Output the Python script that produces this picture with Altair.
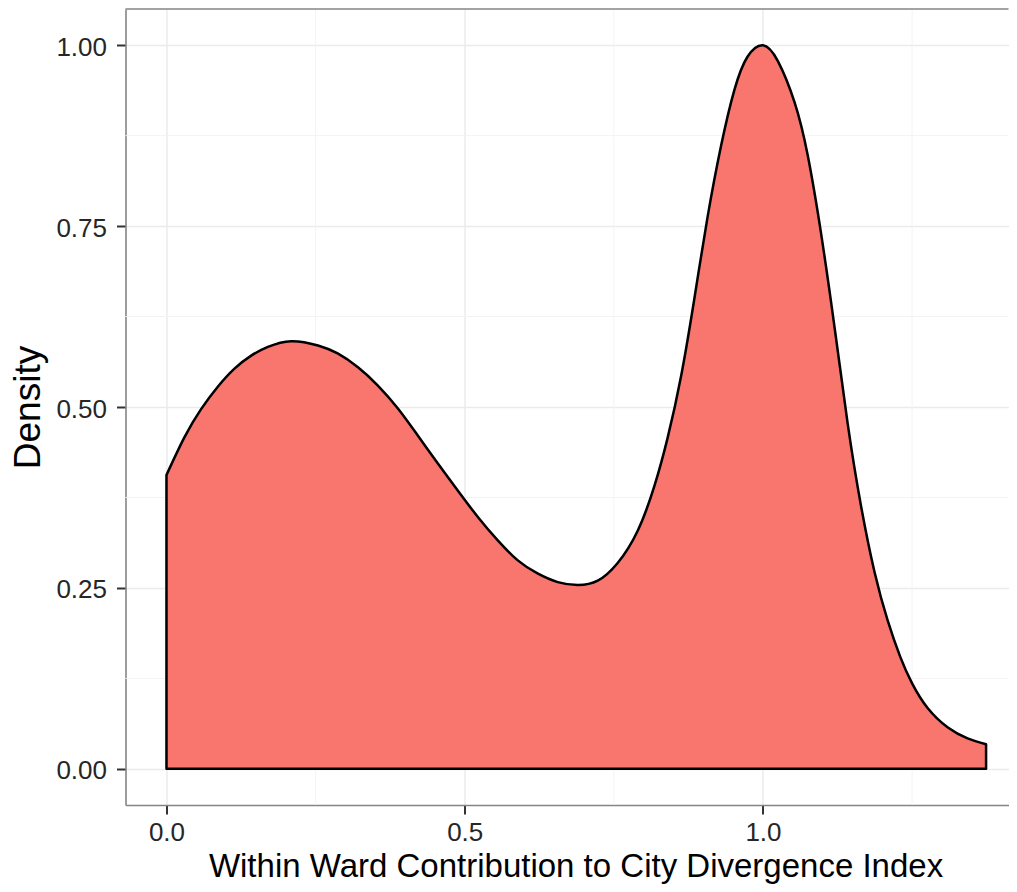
import altair as alt
import pandas as pd

# density curve
ward_x = [0.000, 0.030, 0.058, 0.086, 0.114, 0.142, 0.170, 0.209, 0.254, 0.287,
          0.321, 0.354, 0.388, 0.421, 0.455, 0.488, 0.522, 0.555, 0.589, 0.622,
          0.656, 0.690, 0.723, 0.756, 0.790, 0.818, 0.840, 0.863, 0.885, 0.907,
          0.930, 0.952, 0.974, 1.000, 1.025, 1.053, 1.075, 1.097, 1.120, 1.142,
          1.164, 1.187, 1.209, 1.230, 1.250, 1.276, 1.310, 1.343, 1.374]
density = [0.406, 0.458, 0.497, 0.528, 0.553, 0.571, 0.583, 0.591, 0.585, 0.574,
           0.555, 0.530, 0.498, 0.461, 0.422, 0.385, 0.348, 0.316, 0.288, 0.270,
           0.258, 0.254, 0.260, 0.284, 0.329, 0.391, 0.457, 0.544, 0.650, 0.762,
           0.862, 0.938, 0.984, 1.000, 0.978, 0.921, 0.848, 0.742, 0.610, 0.477,
           0.365, 0.272, 0.205, 0.155, 0.118, 0.084, 0.057, 0.042, 0.034]

x_major = [0.0, 0.5, 1.0]
x_minor = [0.25, 0.75, 1.25]
y_major = [0.0, 0.25, 0.5, 0.75, 1.0]
y_minor = [0.125, 0.375, 0.625, 0.875]

W, H = 883, 796
FONT = "Liberation Sans"
BORDER = "#858585"
TEXT = "#262626"

df = pd.DataFrame({"x": ward_x, "y": density})
x_scale = alt.Scale(domain=[-0.0687, -0.0687 + W / 596.5], nice=False, zero=False)
y_scale = alt.Scale(domain=[-0.05, 1.05], nice=False, zero=False)

x_axis = alt.Axis(
    values=x_major, format=".1f", title="Within Ward Contribution to City Divergence Index",
    tickSize=9, tickWidth=2, tickColor="#333333",
    labelFont=FONT, labelFontSize=26, labelColor=TEXT, labelPadding=5,
    labelFlush=False, labelOverlap=False,
    titleFont=FONT, titleFontSize=33, titleFontWeight="normal", titleColor="black",
    titleX=450, titleY=71, titleBaseline="alphabetic", titleAlign="center",
    domainColor=BORDER, domainWidth=1.6,
    gridColor="#EBEBEB", gridWidth=1.5)
y_axis = alt.Axis(
    values=y_major, format=".2f", title="Density",
    tickSize=9, tickWidth=2, tickColor="#333333",
    labelFont=FONT, labelFontSize=26, labelColor=TEXT, labelPadding=10,
    labelOffset=2, labelFlush=False, labelOverlap=False,
    titleFont=FONT, titleFontSize=37, titleFontWeight="normal", titleColor="black",
    titleAngle=270, titleX=-86, titleY=H / 2, titleBaseline="alphabetic", titleAlign="center",
    domainColor=BORDER, domainWidth=1.6,
    gridColor="#EBEBEB", gridWidth=1.5)

minor_v = alt.Chart(pd.DataFrame({"x": x_minor})).mark_rule(
    color="#F3F3F3", strokeWidth=1
).encode(x=alt.X("x:Q", scale=x_scale, axis=x_axis))

minor_h = alt.Chart(pd.DataFrame({"y": y_minor})).mark_rule(
    color="#F3F3F3", strokeWidth=1
).encode(y=alt.Y("y:Q", scale=y_scale, axis=y_axis))

area = alt.Chart(df).mark_area(
    fill="#F8766D", fillOpacity=1, stroke="black", strokeWidth=2.5,
    interpolate="natural", strokeJoin="round"
).encode(
    x=alt.X("x:Q", scale=x_scale, axis=x_axis),
    y=alt.Y("y:Q", scale=y_scale, axis=y_axis),
    y2=alt.datum(0),
)

# top edge of the panel border (the right edge is cut off in the reference)
top_edge = alt.Chart(pd.DataFrame({"a": [0]})).mark_rule(
    color=BORDER, strokeWidth=1.6
).encode(y=alt.value(0), x=alt.value(0), x2=alt.value(W))

chart = alt.layer(minor_v, minor_h, area, top_edge).properties(
    width=W, height=H,
    padding={"left": 117.5, "top": 1, "right": 0, "bottom": 79},
    autosize=alt.AutoSizeParams(type="none"),
    background="white",
).configure_view(stroke=None)

chart.save("out.html", embed_options={"renderer": "svg", "actions": False})
